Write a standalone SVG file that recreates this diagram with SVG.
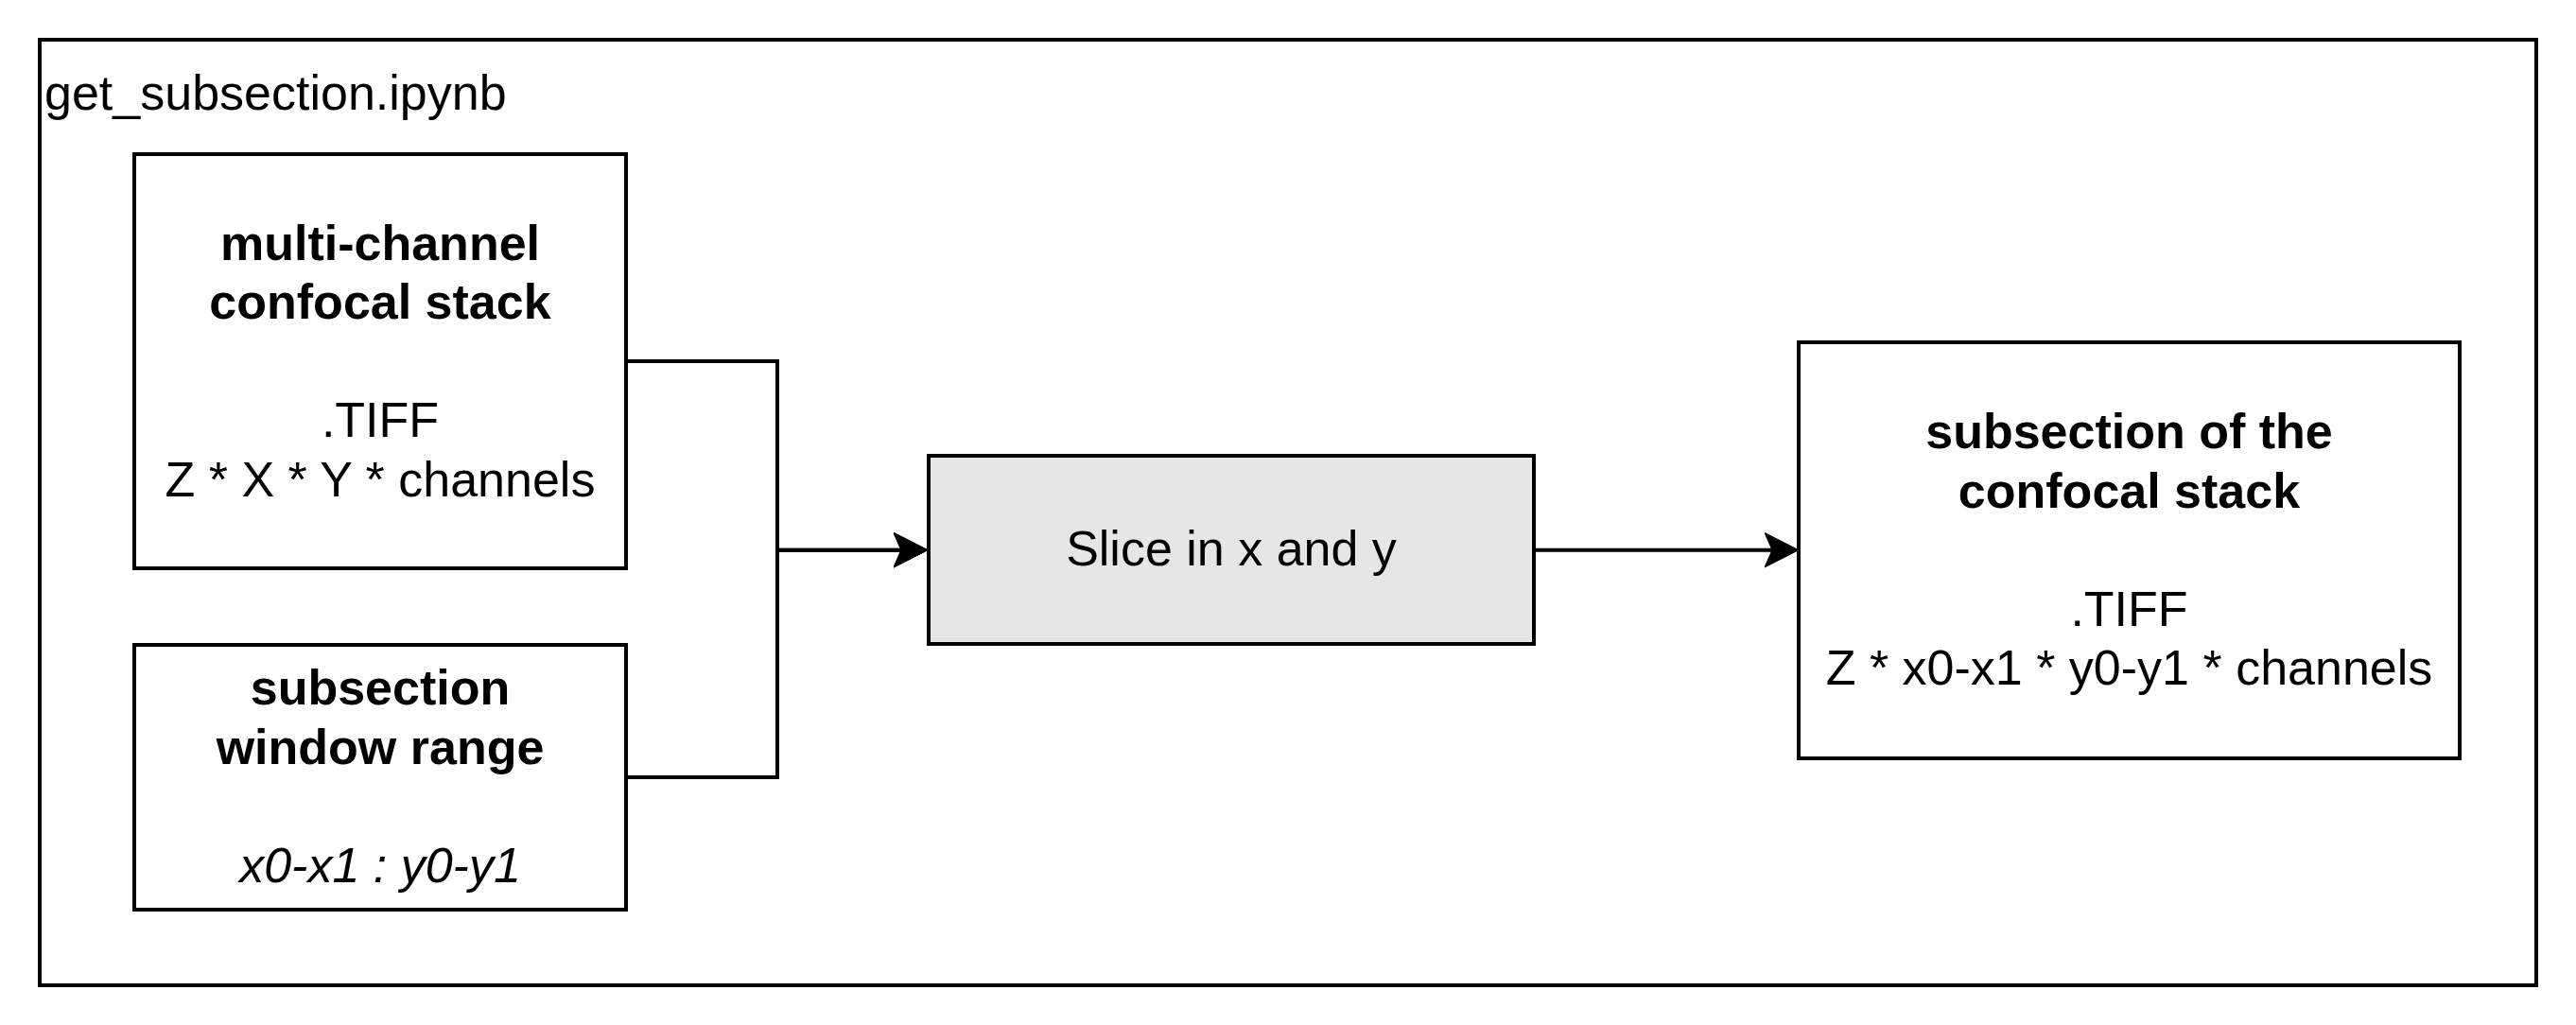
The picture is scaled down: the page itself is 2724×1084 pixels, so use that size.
<svg xmlns="http://www.w3.org/2000/svg" width="2724" height="1084" viewBox="0 0 2724 1084">
  <style>
    .box { fill: #ffffff; stroke: #000000; stroke-width: 4; }
    .proc { fill: #e6e6e6; stroke: #000000; stroke-width: 4; }
    .edge { fill: none; stroke: #000000; stroke-width: 4; }
    text { font-family: "Liberation Sans", Arial, sans-serif; font-size: 52px; fill: #000000; }
    .c { text-anchor: middle; }
    .b { font-weight: bold; }
    .i { font-style: italic; }
  </style>
  <defs>
    <marker id="arrow" markerUnits="userSpaceOnUse" markerWidth="40" markerHeight="40" viewBox="0 0 40 40" refX="8" refY="20" orient="auto">
      <path d="M36,20 L0,1.7 L8,20 L0,38.3 Z" fill="#000000" stroke="#000000" stroke-width="1"/>
    </marker>
  </defs>
  <rect width="2724" height="1084" fill="#ffffff"/>
  <g id="container">
    <rect class="box" x="42" y="42" width="2640" height="1000"/>
    <text x="47" y="115.7">get_subsection.ipynb</text>
  </g>
  <g id="connectors">
    <path class="edge" d="M662,382 H822 V581.7 H953" marker-end="url(#arrow)"/>
    <path class="edge" d="M662,822 H822 V581.7 H953" marker-end="url(#arrow)"/>
    <path class="edge" d="M1622,581.7 H1874" marker-end="url(#arrow)"/>
  </g>
  <g id="node-stack">
    <rect class="box" x="142" y="163" width="520" height="438"/>
    <text class="c b" x="402" y="275">multi-channel</text>
    <text class="c b" x="402" y="337.4">confocal stack</text>
    <text class="c" x="402" y="462.2">.TIFF</text>
    <text class="c" x="402" y="524.6">Z * X * Y * channels</text>
  </g>
  <g id="node-window">
    <rect class="box" x="142" y="682" width="520" height="280"/>
    <text class="c b" x="402" y="745">subsection</text>
    <text class="c b" x="402" y="807.5">window range</text>
    <text class="c i" x="402" y="932.5">x0-x1 : y0-y1</text>
  </g>
  <g id="node-slice">
    <rect class="proc" x="982" y="482" width="640" height="199"/>
    <text class="c" x="1302" y="598.3">Slice in x and y</text>
  </g>
  <g id="node-subsection">
    <rect class="box" x="1902" y="362" width="699" height="440"/>
    <text class="c b" x="2251.5" y="474.3">subsection of the</text>
    <text class="c b" x="2251.5" y="536.7">confocal stack</text>
    <text class="c" x="2251.5" y="661.5">.TIFF</text>
    <text class="c" x="2251.5" y="723.9">Z * x0-x1 * y0-y1 * channels</text>
  </g>
</svg>
